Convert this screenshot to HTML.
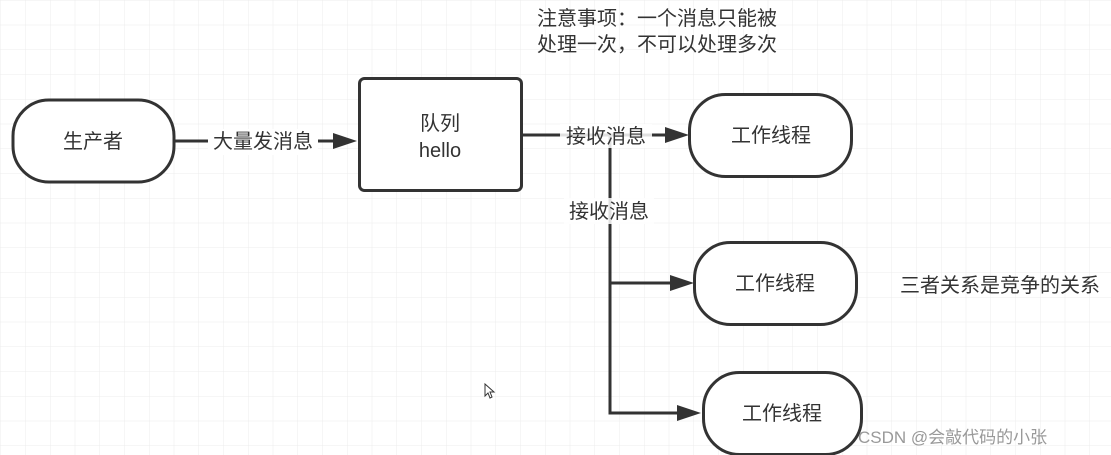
<!DOCTYPE html>
<html><head><meta charset="utf-8"><style>
html,body{margin:0;padding:0;background:#fff;}
svg{display:block;}
text{font-family:"Liberation Sans","Noto Sans CJK SC",sans-serif;fill:#333;}
</style></head><body>
<svg width="1111" height="455" viewBox="0 0 1111 455" xmlns="http://www.w3.org/2000/svg">
<defs>
<pattern id="g" x="1" y="0.5" width="24.75" height="24.75" patternUnits="userSpaceOnUse">
<path d="M24.75 0V24.75M0 24.75H24.75" stroke="#ececec" stroke-width="1" fill="none"/>
</pattern>
<marker id="a" markerWidth="10" markerHeight="10" refX="9" refY="5" orient="auto" markerUnits="userSpaceOnUse">
</marker>
</defs>
<rect width="1111" height="455" fill="url(#g)"/>
<g stroke="#333" stroke-width="3" fill="#fff">
<rect x="13" y="100" width="161" height="82" rx="36"/>
<rect x="359.5" y="78.5" width="162" height="112" rx="5"/>
<rect x="689.5" y="94.5" width="162" height="82" rx="36"/>
<rect x="694.5" y="242.5" width="162" height="82" rx="36"/>
<rect x="703.5" y="372.5" width="158" height="82" rx="36"/>
</g>
<g stroke="#333" stroke-width="3" fill="none">
<path d="M174 141H335"/>
<path d="M521 135H610V413H682"/>
<path d="M610 135H668"/>
<path d="M610 283H675"/>
</g>
<g fill="#333">
<polygon points="357,141 333,133 333,149"/>
<polygon points="689,135 665,127 665,143"/>
<polygon points="694,283 670,275 670,291"/>
<polygon points="701,413 677,405 677,421"/>
</g>
<rect x="208" y="129" width="110" height="26" fill="#fff"/>
<rect x="560" y="124" width="92" height="24" fill="#fff" opacity="0.85"/>
<rect x="564" y="198" width="90" height="26" fill="#fff" opacity="0.85"/>
<g font-size="20">
<text x="93" y="148" text-anchor="middle">生产者</text>
<text x="263" y="148" text-anchor="middle">大量发消息</text>
<text x="440" y="130" text-anchor="middle">队列</text>
<text x="440" y="157" text-anchor="middle">hello</text>
<text x="606" y="143" text-anchor="middle">接收消息</text>
<text x="609" y="218" text-anchor="middle">接收消息</text>
<text x="771" y="142" text-anchor="middle">工作线程</text>
<text x="775" y="290" text-anchor="middle">工作线程</text>
<text x="782" y="420" text-anchor="middle">工作线程</text>
<text x="537" y="25">注意事项：一个消息只能被</text>
<text x="537" y="51">处理一次，不可以处理多次</text>
<text x="900" y="292">三者关系是竞争的关系</text>
</g>
<text x="858" y="443" font-size="17" style="fill:#999">CSDN @会敲代码的小张</text>
<path d="M485 384V396L488 393L490 398L492 397L490 392L494 392Z" fill="#fff" stroke="#333" stroke-width="1"/>
</svg>
</body></html>
